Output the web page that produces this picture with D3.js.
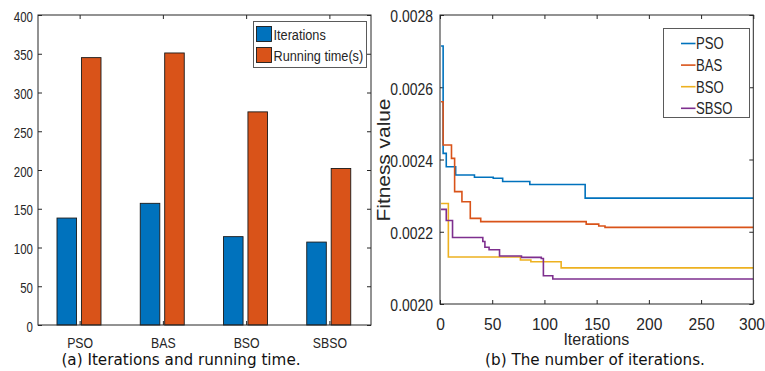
<!DOCTYPE html>
<html>
<head>
<meta charset="utf-8">
<script src="https://cdn.jsdelivr.net/npm/d3@7"></script>
<style>
  html, body { margin: 0; padding: 0; background: #fff; }
  svg { display: block; }
</style>
</head>
<body>
<svg id="fig" width="765" height="371"></svg>
<script>
// ---- bar panel data ----
const categories = ["PSO", "BAS", "BSO", "SBSO"];
const barSeries = ["Iterations", "Running time(s)"];
const iterationsCount = [138, 157, 114, 107];
const runningTime = [345, 351, 275, 202];
const barTicks = [0, 50, 100, 150, 200, 250, 300, 350, 400];

// ---- convergence panel data (iteration where the best value changes, value) ----
const algoNames = ["PSO", "BAS", "BSO", "SBSO"];
const psoIter = [1, 3, 6, 15, 33, 51, 60, 86, 139, 300];
const psoFit  = [0.002714, 0.002417, 0.002380, 0.002357, 0.002351, 0.002348, 0.002339, 0.002331, 0.002293, 0.002293];
const basIter = [1, 3, 11, 14, 21, 29, 39, 140, 152, 158, 300];
const basFit  = [0.002560, 0.002440, 0.002403, 0.002311, 0.002283, 0.002237, 0.002228, 0.002221, 0.002216, 0.002212, 0.002212];
const bsoIter = [1, 8, 77, 87, 116, 300];
const bsoFit  = [0.002278, 0.002130, 0.002122, 0.002117, 0.002100, 0.002100];
const sbsoIter = [1, 6, 12, 41, 43, 47, 57, 78, 97, 99, 108, 300];
const sbsoFit  = [0.002262, 0.002231, 0.002184, 0.002173, 0.002157, 0.002150, 0.002133, 0.002129, 0.002126, 0.002078, 0.002069, 0.002069];
const fitTicks = [0.0020, 0.0022, 0.0024, 0.0026, 0.0028];
const iterTicks = [0, 50, 100, 150, 200, 250, 300];

const AX = "#262626";
const SANS = "'Liberation Sans', Arial, sans-serif";
const CAPTION = "'DejaVu Sans', Verdana, sans-serif";
const NARROW_FACTOR = 0.82;
const barColors = ["#0072BD", "#D95319"];
const lineColors = ["#0072BD", "#D95319", "#EDB120", "#7E2F8E"];

const svg = d3.select("#fig");
svg.append("rect").attr("width", 765).attr("height", 371).attr("fill", "#fff");

function styleAxis(g, size) {
  g.select(".domain").remove();
  g.selectAll("line").attr("stroke", AX);
  g.selectAll("text").attr("fill", AX).attr("font-family", SANS).attr("font-size", size);
}
// condensed lettering: squeeze each label horizontally
function narrow(sel) {
  sel.each(function () {
    const w = this.getComputedTextLength();
    if (w > 0) {
      this.setAttribute("textLength", (w * NARROW_FACTOR).toFixed(2));
      this.setAttribute("lengthAdjust", "spacingAndGlyphs");
    }
  });
}

// ================= (a) grouped bars =================
const A = { left: 38, right: 371, top: 15, bottom: 325 };
const xa = d3.scaleBand().domain(categories).range([A.left, A.right]).padding(0);
const xInner = d3.scaleBand().domain(barSeries).range([19, 63]).paddingInner(0.2);
const ya = d3.scaleLinear().domain([0, 400]).range([A.bottom, A.top]);

const pa = svg.append("g");
const barData = categories.map((c, i) => ({ cat: c, vals: [iterationsCount[i], runningTime[i]] }));
pa.selectAll("g.grp").data(barData).join("g").attr("class", "grp")
  .attr("transform", d => `translate(${xa(d.cat)},0)`)
  .selectAll("rect").data(d => d.vals.map((v, k) => ({ v, k }))).join("rect")
  .attr("x", d => xInner(barSeries[d.k]))
  .attr("width", xInner.bandwidth())
  .attr("y", d => ya(d.v))
  .attr("height", d => ya(0) - ya(d.v))
  .attr("fill", d => barColors[d.k])
  .attr("stroke", "#1a1a1a").attr("stroke-width", 0.9);

// axes (ticks pointing inward, box on)
const gyaL = pa.append("g").attr("transform", `translate(${A.left},0)`)
  .call(d3.axisLeft(ya).tickValues(barTicks).tickSize(-4).tickPadding(5).tickFormat(d3.format("d")));
styleAxis(gyaL, 14);
gyaL.selectAll("text").attr("dy", "0.36em").attr("y", 1);
narrow(gyaL.selectAll("text"));
const gyaR = pa.append("g").attr("transform", `translate(${A.right},0)`)
  .call(d3.axisRight(ya).tickValues(barTicks).tickSize(-4).tickFormat(""));
styleAxis(gyaR, 14);
const xCenter = d3.scalePoint().domain(categories)
  .range([xa(categories[0]) + xa.bandwidth() / 2, xa(categories[categories.length - 1]) + xa.bandwidth() / 2]);
const gxaB = pa.append("g").attr("transform", `translate(0,${A.bottom})`)
  .call(d3.axisBottom(xCenter).tickSize(-4).tickPadding(0));
styleAxis(gxaB, 15);
gxaB.selectAll("text").attr("y", 22.7).attr("dy", 0);
narrow(gxaB.selectAll("text"));
const gxaT = pa.append("g").attr("transform", `translate(0,${A.top})`)
  .call(d3.axisTop(xCenter).tickSize(-4).tickFormat(""));
styleAxis(gxaT, 14);
pa.append("rect").attr("x", A.left).attr("y", A.top).attr("width", A.right - A.left).attr("height", A.bottom - A.top)
  .attr("fill", "none").attr("stroke", AX).attr("stroke-width", 1);

// legend (a)
const la = pa.append("g");
la.append("rect").attr("x", 253.5).attr("y", 21.5).attr("width", 113).attr("height", 46)
  .attr("fill", "#fff").attr("stroke", "#5a5a5a").attr("stroke-width", 1);
barSeries.forEach((s, k) => {
  const cy = 34 + k * 21;
  la.append("rect").attr("x", 256.5).attr("y", cy - 7.5).attr("width", 15).attr("height", 15)
    .attr("fill", barColors[k]).attr("stroke", "#1a1a1a").attr("stroke-width", 0.9);
  la.append("text").attr("x", 273.5).attr("y", cy + 5.8).text(s)
    .attr("font-family", SANS).attr("font-size", 15.5).attr("fill", AX)
    .call(narrow);
});

svg.append("text").attr("x", 181).attr("y", 365).attr("text-anchor", "middle")
  .attr("font-family", CAPTION).attr("font-size", 15.2).attr("fill", "#111")
  .text("(a) Iterations and running time.");

// ================= (b) convergence curves =================
const B = { left: 440, right: 753.3, top: 15, bottom: 304 };
const xb = d3.scaleLinear().domain([0, 300]).range([B.left, B.right]);
const yb = d3.scaleLinear().domain([0.0020, 0.0028]).range([B.bottom, B.top]);
const pb = svg.append("g");

const gybL = pb.append("g").attr("transform", `translate(${B.left},0)`)
  .call(d3.axisLeft(yb).tickValues(fitTicks).tickSize(-4).tickPadding(7).tickFormat(d3.format(".4f")));
styleAxis(gybL, 17);
gybL.selectAll("text").attr("dy", "0.36em").attr("y", 0.8);
narrow(gybL.selectAll("text"));
const gybR = pb.append("g").attr("transform", `translate(${B.right},0)`)
  .call(d3.axisRight(yb).tickValues(fitTicks).tickSize(-4).tickFormat(""));
styleAxis(gybR, 14);
const gxbB = pb.append("g").attr("transform", `translate(0,${B.bottom})`)
  .call(d3.axisBottom(xb).tickValues(iterTicks).tickSize(-4).tickPadding(0).tickFormat(d3.format("d")));
styleAxis(gxbB, 15.6);
gxbB.selectAll("text").attr("y", 25.5).attr("dy", 0);
// the last label sits against the right edge of the figure
gxbB.selectAll("text").filter(d => d === iterTicks[iterTicks.length - 1])
  .attr("text-anchor", "end").attr("x", 765 - B.right - 0.5);
const gxbT = pb.append("g").attr("transform", `translate(0,${B.top})`)
  .call(d3.axisTop(xb).tickValues(iterTicks).tickSize(-4).tickFormat(""));
styleAxis(gxbT, 14);

const series = [
  { name: algoNames[0], iter: psoIter, fit: psoFit },
  { name: algoNames[1], iter: basIter, fit: basFit },
  { name: algoNames[2], iter: bsoIter, fit: bsoFit },
  { name: algoNames[3], iter: sbsoIter, fit: sbsoFit }
];
const stepLine = d3.line().curve(d3.curveStepAfter).x(d => xb(d[0])).y(d => yb(d[1]));
pb.selectAll("path.curve").data(series).join("path").attr("class", "curve")
  .attr("d", s => stepLine(s.iter.map((t, i) => [t, s.fit[i]])))
  .attr("fill", "none")
  .attr("stroke", (s, i) => lineColors[i])
  .attr("stroke-width", 1.6);

pb.append("rect").attr("x", B.left).attr("y", B.top).attr("width", B.right - B.left).attr("height", B.bottom - B.top)
  .attr("fill", "none").attr("stroke", AX).attr("stroke-width", 1);

// legend (b)
const lb = pb.append("g");
lb.append("rect").attr("x", 663.5).attr("y", 28.5).attr("width", 86).attr("height", 89)
  .attr("fill", "#fff").attr("stroke", "#5a5a5a").attr("stroke-width", 1);
algoNames.forEach((n, k) => {
  const cy = 43.5 + k * 21.6;
  lb.append("line").attr("x1", 681).attr("x2", 695.5).attr("y1", cy).attr("y2", cy)
    .attr("stroke", lineColors[k]).attr("stroke-width", 1.6);
  lb.append("text").attr("x", 696).attr("y", cy + 5.8).text(n)
    .attr("font-family", SANS).attr("font-size", 16).attr("fill", AX)
    .call(narrow);
});

pb.append("text").attr("x", 596.3).attr("y", 345).attr("text-anchor", "middle")
  .attr("font-family", SANS).attr("font-size", 16).attr("fill", AX).text("Iterations");
pb.append("text").attr("transform", "translate(390,160) rotate(-90)").attr("text-anchor", "middle")
  .attr("font-family", SANS).attr("font-size", 18).attr("fill", AX)
  .attr("textLength", 123).attr("lengthAdjust", "spacingAndGlyphs")
  .text("Fitness value");

svg.append("text").attr("x", 595).attr("y", 365).attr("text-anchor", "middle")
  .attr("font-family", CAPTION).attr("font-size", 15.2).attr("fill", "#111")
  .text("(b) The number of iterations.");
</script>
</body>
</html>
